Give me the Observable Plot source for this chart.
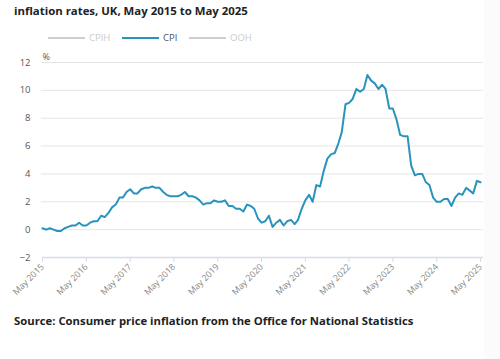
<!DOCTYPE html>
<html>
<head>
<meta charset="utf-8">
<script src="https://cdn.jsdelivr.net/npm/d3@7"></script>
<script src="https://cdn.jsdelivr.net/npm/@observablehq/plot@0.6"></script>
<style>
  html, body { margin: 0; padding: 0; background: #fff; }
  body { width: 500px; height: 359px; position: relative; overflow: hidden; font-family: "Open Sans", sans-serif; }
  #title { position: absolute; left: 14px; top: 3px; font-size: 11.4px; line-height: 16px; font-weight: 700; color: #222; white-space: nowrap; }
  #legend { position: absolute; left: 0; top: 31px; width: 500px; height: 14px; }
  .sw { position: absolute; top: 6px; height: 2px; width: 37px; }
  .lt { position: absolute; top: 0; font-size: 9.5px; line-height: 14px; }
  #chart { position: absolute; left: 0; top: 48px; }
  #source { position: absolute; left: 14px; top: 313px; font-size: 11.3px; line-height: 16px; font-weight: 700; color: #222; white-space: nowrap; }
  #strip { position: absolute; left: 484px; top: 0; width: 16px; height: 359px; background: #fbfbfb; }
</style>
</head>
<body>
<div id="strip"></div>
<div id="title">inflation rates, UK, May 2015 to May 2025</div>
<div id="legend"></div>
<div id="chart"></div>
<div id="source">Source: Consumer price inflation from the Office for National Statistics</div>
<script>
// Data
const startMonth = "2015-05";
const cpi = [
  // 2015 May-Dec
  0.1, 0.0, 0.1, 0.0, -0.1, -0.1, 0.1, 0.2,
  // 2016
  0.3, 0.3, 0.5, 0.3, 0.3, 0.5, 0.6, 0.6, 1.0, 0.9, 1.2, 1.6,
  // 2017
  1.8, 2.3, 2.3, 2.7, 2.9, 2.6, 2.6, 2.9, 3.0, 3.0, 3.1, 3.0,
  // 2018
  3.0, 2.7, 2.5, 2.4, 2.4, 2.4, 2.5, 2.7, 2.4, 2.4, 2.3, 2.1,
  // 2019
  1.8, 1.9, 1.9, 2.1, 2.0, 2.0, 2.1, 1.7, 1.7, 1.5, 1.5, 1.3,
  // 2020
  1.8, 1.7, 1.5, 0.8, 0.5, 0.6, 1.0, 0.2, 0.5, 0.7, 0.3, 0.6,
  // 2021
  0.7, 0.4, 0.7, 1.5, 2.1, 2.5, 2.0, 3.2, 3.1, 4.2, 5.1, 5.4,
  // 2022
  5.5, 6.2, 7.0, 9.0, 9.1, 9.4, 10.1, 9.9, 10.1, 11.1, 10.7, 10.5,
  // 2023
  10.1, 10.4, 10.1, 8.7, 8.7, 7.9, 6.8, 6.7, 6.7, 4.6, 3.9, 4.0,
  // 2024
  4.0, 3.4, 3.2, 2.3, 2.0, 2.0, 2.2, 2.2, 1.7, 2.3, 2.6, 2.5,
  // 2025 Jan-May
  3.0, 2.8, 2.6, 3.5, 3.4
];
const yTicks = [-2, 0, 2, 4, 6, 8, 10, 12];
const xTickLabels = ["May 2015","May 2016","May 2017","May 2018","May 2019","May 2020","May 2021","May 2022","May 2023","May 2024","May 2025"];
const legendItems = [
  {name: "CPIH", active: false},
  {name: "CPI", active: true},
  {name: "OOH", active: false}
];

const parseMonth = d3.utcParse("%Y-%m");
const parseLabel = d3.utcParse("%b %Y");
const start = parseMonth(startMonth);
const data = cpi.map((v, i) => ({date: d3.utcMonth.offset(start, i), value: v}));
const xTicks = xTickLabels.map(parseLabel);

const lineColor = "#2a93bc";

// Legend
const legend = document.getElementById("legend");
const legendX = [48, 122, 189];
legendItems.forEach((it, i) => {
  const sw = document.createElement("div");
  sw.className = "sw";
  sw.style.left = legendX[i] + "px";
  sw.style.background = it.active ? lineColor : "#cfcfcf";
  legend.appendChild(sw);
  const t = document.createElement("div");
  t.className = "lt";
  t.style.left = (legendX[i] + 41) + "px";
  t.style.color = it.active ? "#555" : "#cccccc";
  t.textContent = it.name;
  legend.appendChild(t);
});

const chart = Plot.plot({
  width: 500,
  height: 250,
  marginLeft: 42,
  marginRight: 20,
  marginTop: 14,
  marginBottom: 41,
  style: {fontFamily: "Open Sans, sans-serif", background: "transparent", overflow: "visible"},
  x: {type: "utc", domain: [xTicks[0], xTicks[xTicks.length - 1]]},
  y: {domain: [-2, 12]},
  marks: [
    Plot.ruleY(yTicks.filter(d => d > -2), {stroke: "#e6e6e6", strokeWidth: 1, insetLeft: -1, insetRight: -3}),
    Plot.ruleY([-2], {stroke: "#d8dce6", strokeWidth: 1.5, insetRight: -3}),
    Plot.axisY({ticks: yTicks, tickSize: 0, tickPadding: 12, label: null, fontSize: 9.5, color: "#555"}),
    Plot.axisX({ticks: xTicks, tickFormat: d3.utcFormat("%b %Y"), tickRotate: -45, tickSize: 5, tickPadding: 3, stroke: "#d8dce6", color: "#888", label: null, fontSize: 8.8}),
    Plot.text(["%"], {frameAnchor: "top-left", dx: 0, dy: -9, textAnchor: "start", fontSize: 9, fill: "#555"}),
    Plot.line(data, {x: "date", y: "value", stroke: lineColor, strokeWidth: 2, strokeLinejoin: "round"})
  ]
});
document.getElementById("chart").appendChild(chart);
</script>
</body>
</html>
